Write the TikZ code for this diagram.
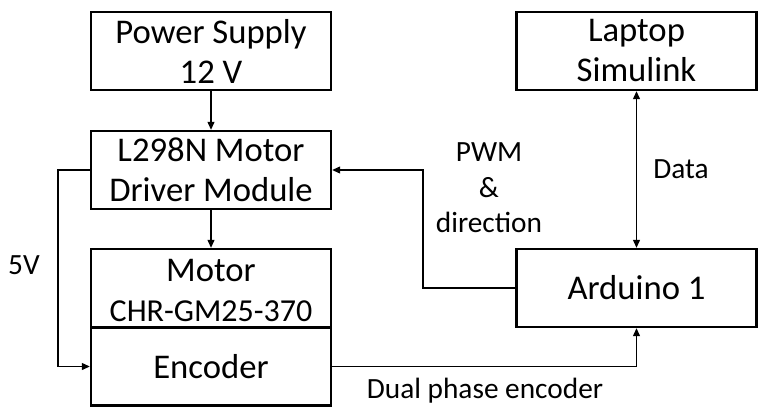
\documentclass[tikz,border=0pt]{standalone}
\usepackage{fontspec}
\setmainfont{Carlito}
\usetikzlibrary{arrows.meta}
\begin{document}
\begin{tikzpicture}[x=0.75pt,y=-0.75pt,
  box/.style={draw, line width=1.6pt, minimum width=180pt, minimum height=58.5pt,
    inner sep=0pt, align=center, font=\fontsize{26}{30}\selectfont},
  conn/.style={line width=1.3pt, -{Triangle[length=6pt,width=5pt]}},
  lbl/.style={align=center, inner sep=0pt, font=\fontsize{22}{26.6}\selectfont}]
\useasboundingbox (0,0) rectangle (768,418);
\node[box] (ps) at (211,51) {Power Supply\\12 V};
\node[box] (drv) at (211,170) {L298N Motor\\Driver Module};
\node[box] (mot) at (211,288) {};
\node[box] (enc) at (211,366.5) {Encoder};
\node[box] (lap) at (636.5,51) {Laptop\\Simulink};
\node[box] (ard) at (636.5,288) {Arduino 1};
\node[inner sep=0pt, font=\fontsize{26}{30}\selectfont] (motl) at (211,270.5) {Motor};
\node[inner sep=0pt, font=\fontsize{24}{28}\selectfont] (motm) at (211,311) {CHR-GM25-370};
\coordinate (c5) at (58,170);
\coordinate (cpwm) at (423,230);
\draw[conn] (ps) -- (drv);
\draw[conn] (drv) -- (mot);
\draw[conn] (drv.west) -- (c5) |- (enc.west);
\draw[conn] (ard.west) -| (cpwm) |- (drv.east);
\draw[line width=1.3pt, {Triangle[length=6pt,width=5pt]}-{Triangle[length=6pt,width=5pt]}] (lap) -- (ard);
\draw[conn] (enc.east) -| (ard.south);
\node[lbl] (l5) at (24,265) {5V};
\node[lbl] (ldata) at (681,169) {Data};
\node[lbl] (lpwm) at (489,188) {PWM\\\&\\direction};
\node[lbl] (ldual) at (485,391) {Dual phase encoder};
\end{tikzpicture}
\end{document}
